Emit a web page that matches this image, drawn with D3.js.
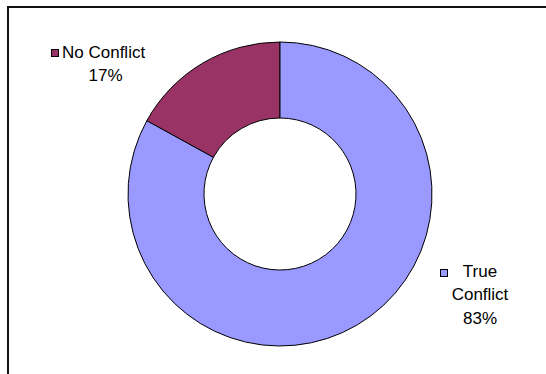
<!DOCTYPE html>
<html><head><meta charset="utf-8">
<script src="https://cdn.jsdelivr.net/npm/d3@7"></script>
<style>html,body{margin:0;padding:0;background:#fff;}svg{display:block;}</style>
</head><body>
<svg id="c" width="546" height="374"></svg>
<script>
const categories = ["No Conflict", "True Conflict"];
const values = [17, 83];
const percentLabels = ["17%", "83%"];
const colors = ["#993366", "#9999FF"];

const svg = d3.select("#c");
svg.append("rect").attr("x", 8).attr("y", 7).attr("width", 600).attr("height", 420)
  .attr("fill", "#fff").attr("stroke", "#111").attr("stroke-width", 2);

const cx = 280, cy = 194, rOuter = 152, rInner = 76;
const data = categories.map((c, i) => ({ name: c, value: values[i], color: colors[i], pct: percentLabels[i] }));
const total = d3.sum(values);
const start = -2 * Math.PI * values[0] / total;
const pie = d3.pie().sort(null).value(d => d.value).startAngle(start).endAngle(start + 2 * Math.PI);
const arc = d3.arc().innerRadius(rInner).outerRadius(rOuter);

const g = svg.append("g").attr("transform", `translate(${cx},${cy})`);
g.selectAll("path").data(pie(data)).join("path")
  .attr("d", arc).attr("fill", d => d.data.color)
  .attr("stroke", "#000").attr("stroke-width", 1);

const font = "Liberation Sans, Arial, sans-serif";
const fs = 17;
// No Conflict label
const l1 = svg.append("g").attr("font-family", font).attr("font-size", fs).attr("fill", "#000");
l1.append("rect").attr("x", 51.5).attr("y", 49.5).attr("width", 7).attr("height", 7)
  .attr("fill", colors[0]).attr("stroke", "#000").attr("stroke-width", 1);
l1.append("text").attr("x", 62).attr("y", 58).text(data[0].name);
l1.append("text").attr("x", 105.5).attr("y", 81).attr("text-anchor", "middle").text(data[0].pct);

// True Conflict label
const words = data[1].name.split(" ");
const l2 = svg.append("g").attr("font-family", font).attr("font-size", fs).attr("fill", "#000");
l2.append("rect").attr("x", 440.5).attr("y", 269.5).attr("width", 7).attr("height", 7)
  .attr("fill", colors[1]).attr("stroke", "#000").attr("stroke-width", 1);
l2.append("text").attr("x", 480).attr("y", 277).attr("text-anchor", "middle").text(words[0]);
l2.append("text").attr("x", 480).attr("y", 300).attr("text-anchor", "middle").text(words[1]);
l2.append("text").attr("x", 480).attr("y", 324).attr("text-anchor", "middle").text(data[1].pct);
</script>
</body></html>
